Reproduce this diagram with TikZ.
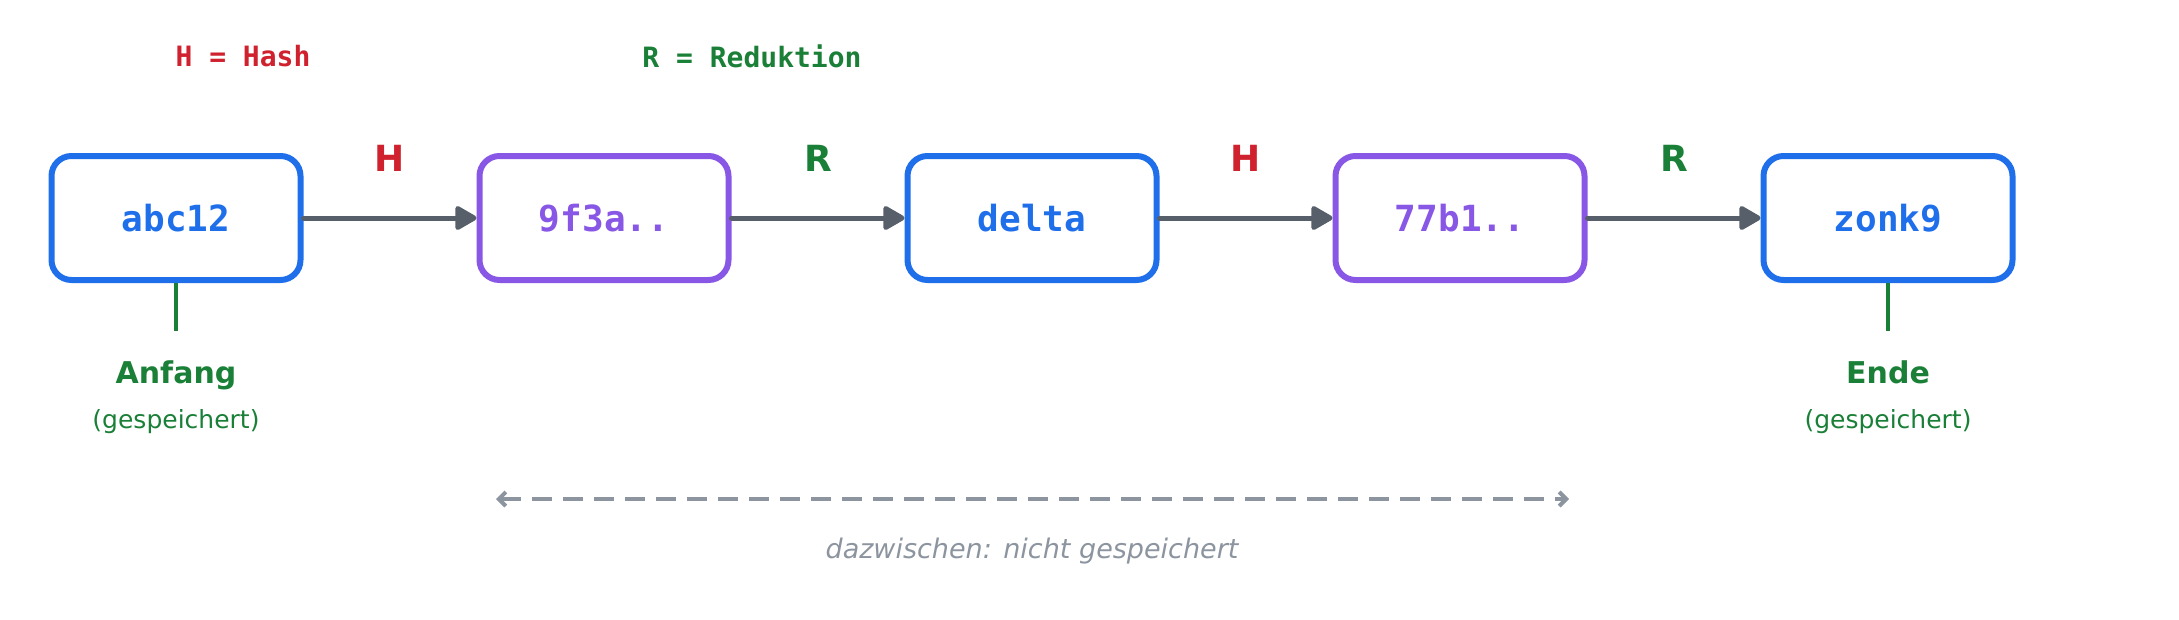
\documentclass[tikz,border=0pt]{standalone}
\usepackage{fontspec}
\setmainfont{DejaVu Sans}
\setmonofont{DejaVu Sans Mono}
\usetikzlibrary{arrows.meta}
\definecolor{cblue}{HTML}{1F6FEB}
\definecolor{cpurple}{HTML}{8957E5}
\definecolor{cgreen}{HTML}{1A7F37}
\definecolor{cred}{HTML}{CF222E}
\definecolor{carrow}{HTML}{57606A}
\definecolor{cdash}{HTML}{8C959F}
\tikzset{
  chainbox/.style={draw=#1, text=#1, line width=6pt, rounded corners=20pt,
    minimum width=249pt, minimum height=124pt, inner sep=0pt,
    font=\fontsize{36}{40}\selectfont\ttfamily\bfseries},
  flow/.style={draw=carrow, line width=5pt, line cap=round,
    -{Triangle[length=24pt,width=26pt,round]}},
  oplabel/.style={text=#1, font=\fontsize{36}{40}\selectfont\bfseries},
  legend/.style={text=#1, font=\fontsize{28}{32}\selectfont\ttfamily\bfseries},
  marker/.style={draw=cgreen, line width=3.5pt},
  storedtitle/.style={text=cgreen, anchor=base, font=\fontsize{30}{34}\selectfont\bfseries},
  storednote/.style={text=cgreen, anchor=base, font=\fontsize{25}{30}\selectfont},
  gap/.style={draw=cdash, line width=4pt, dash pattern=on 20pt off 11pt,
    {Straight Barb[length=7pt,width=14pt,line width=4pt]}-{Straight Barb[length=7pt,width=14pt,line width=4pt]}},
  gaptext/.style={text=cdash, font=\fontsize{27}{30}\selectfont\itshape}
}
\begin{document}
\begin{tikzpicture}[x=1pt,y=-1pt]
\useasboundingbox (0,0) rectangle (2179,619);
\node[legend=cred] (lh) at (243,56) {H = Hash};
\node[legend=cgreen] (lr) at (752,56) {R = Reduktion};

\node[chainbox=cblue] (a) at (176,218) {abc12};
\node[chainbox=cpurple] (b) at (604,218) {9f3a..};
\node[chainbox=cblue] (c) at (1032,218) {delta};
\node[chainbox=cpurple] (d) at (1460,218) {77b1..};
\node[chainbox=cblue] (e) at (1888,218) {zonk9};

\draw[flow] (a.east) -- (b.west);
\draw[flow] (b.east) -- (c.west);
\draw[flow] (c.east) -- (d.west);
\draw[flow] (d.east) -- (e.west);

\node[oplabel=cred] (h1) at (390,158) {H};
\node[oplabel=cgreen] (r1) at (818,158) {R};
\node[oplabel=cred] (h2) at (1246,158) {H};
\node[oplabel=cgreen] (r2) at (1674,158) {R};

\coordinate (ma) at (176,331);
\coordinate (me) at (1888,331);
\draw[marker] (a.south) -- (ma);
\draw[marker] (e.south) -- (me);
\node[storedtitle] (ta) at (176,383) {Anfang};
\node[storednote] (na) at (176,428) {(gespeichert)};
\node[storedtitle] (te) at (1888,383) {Ende};
\node[storednote] (ne) at (1888,428) {(gespeichert)};

\coordinate (gl) at (496,499);
\coordinate (gr) at (1569,499);
\draw[gap] (gl) -- (gr);
\node[gaptext] (gt) at (1032,551) {dazwischen: nicht gespeichert};
\end{tikzpicture}
\end{document}
